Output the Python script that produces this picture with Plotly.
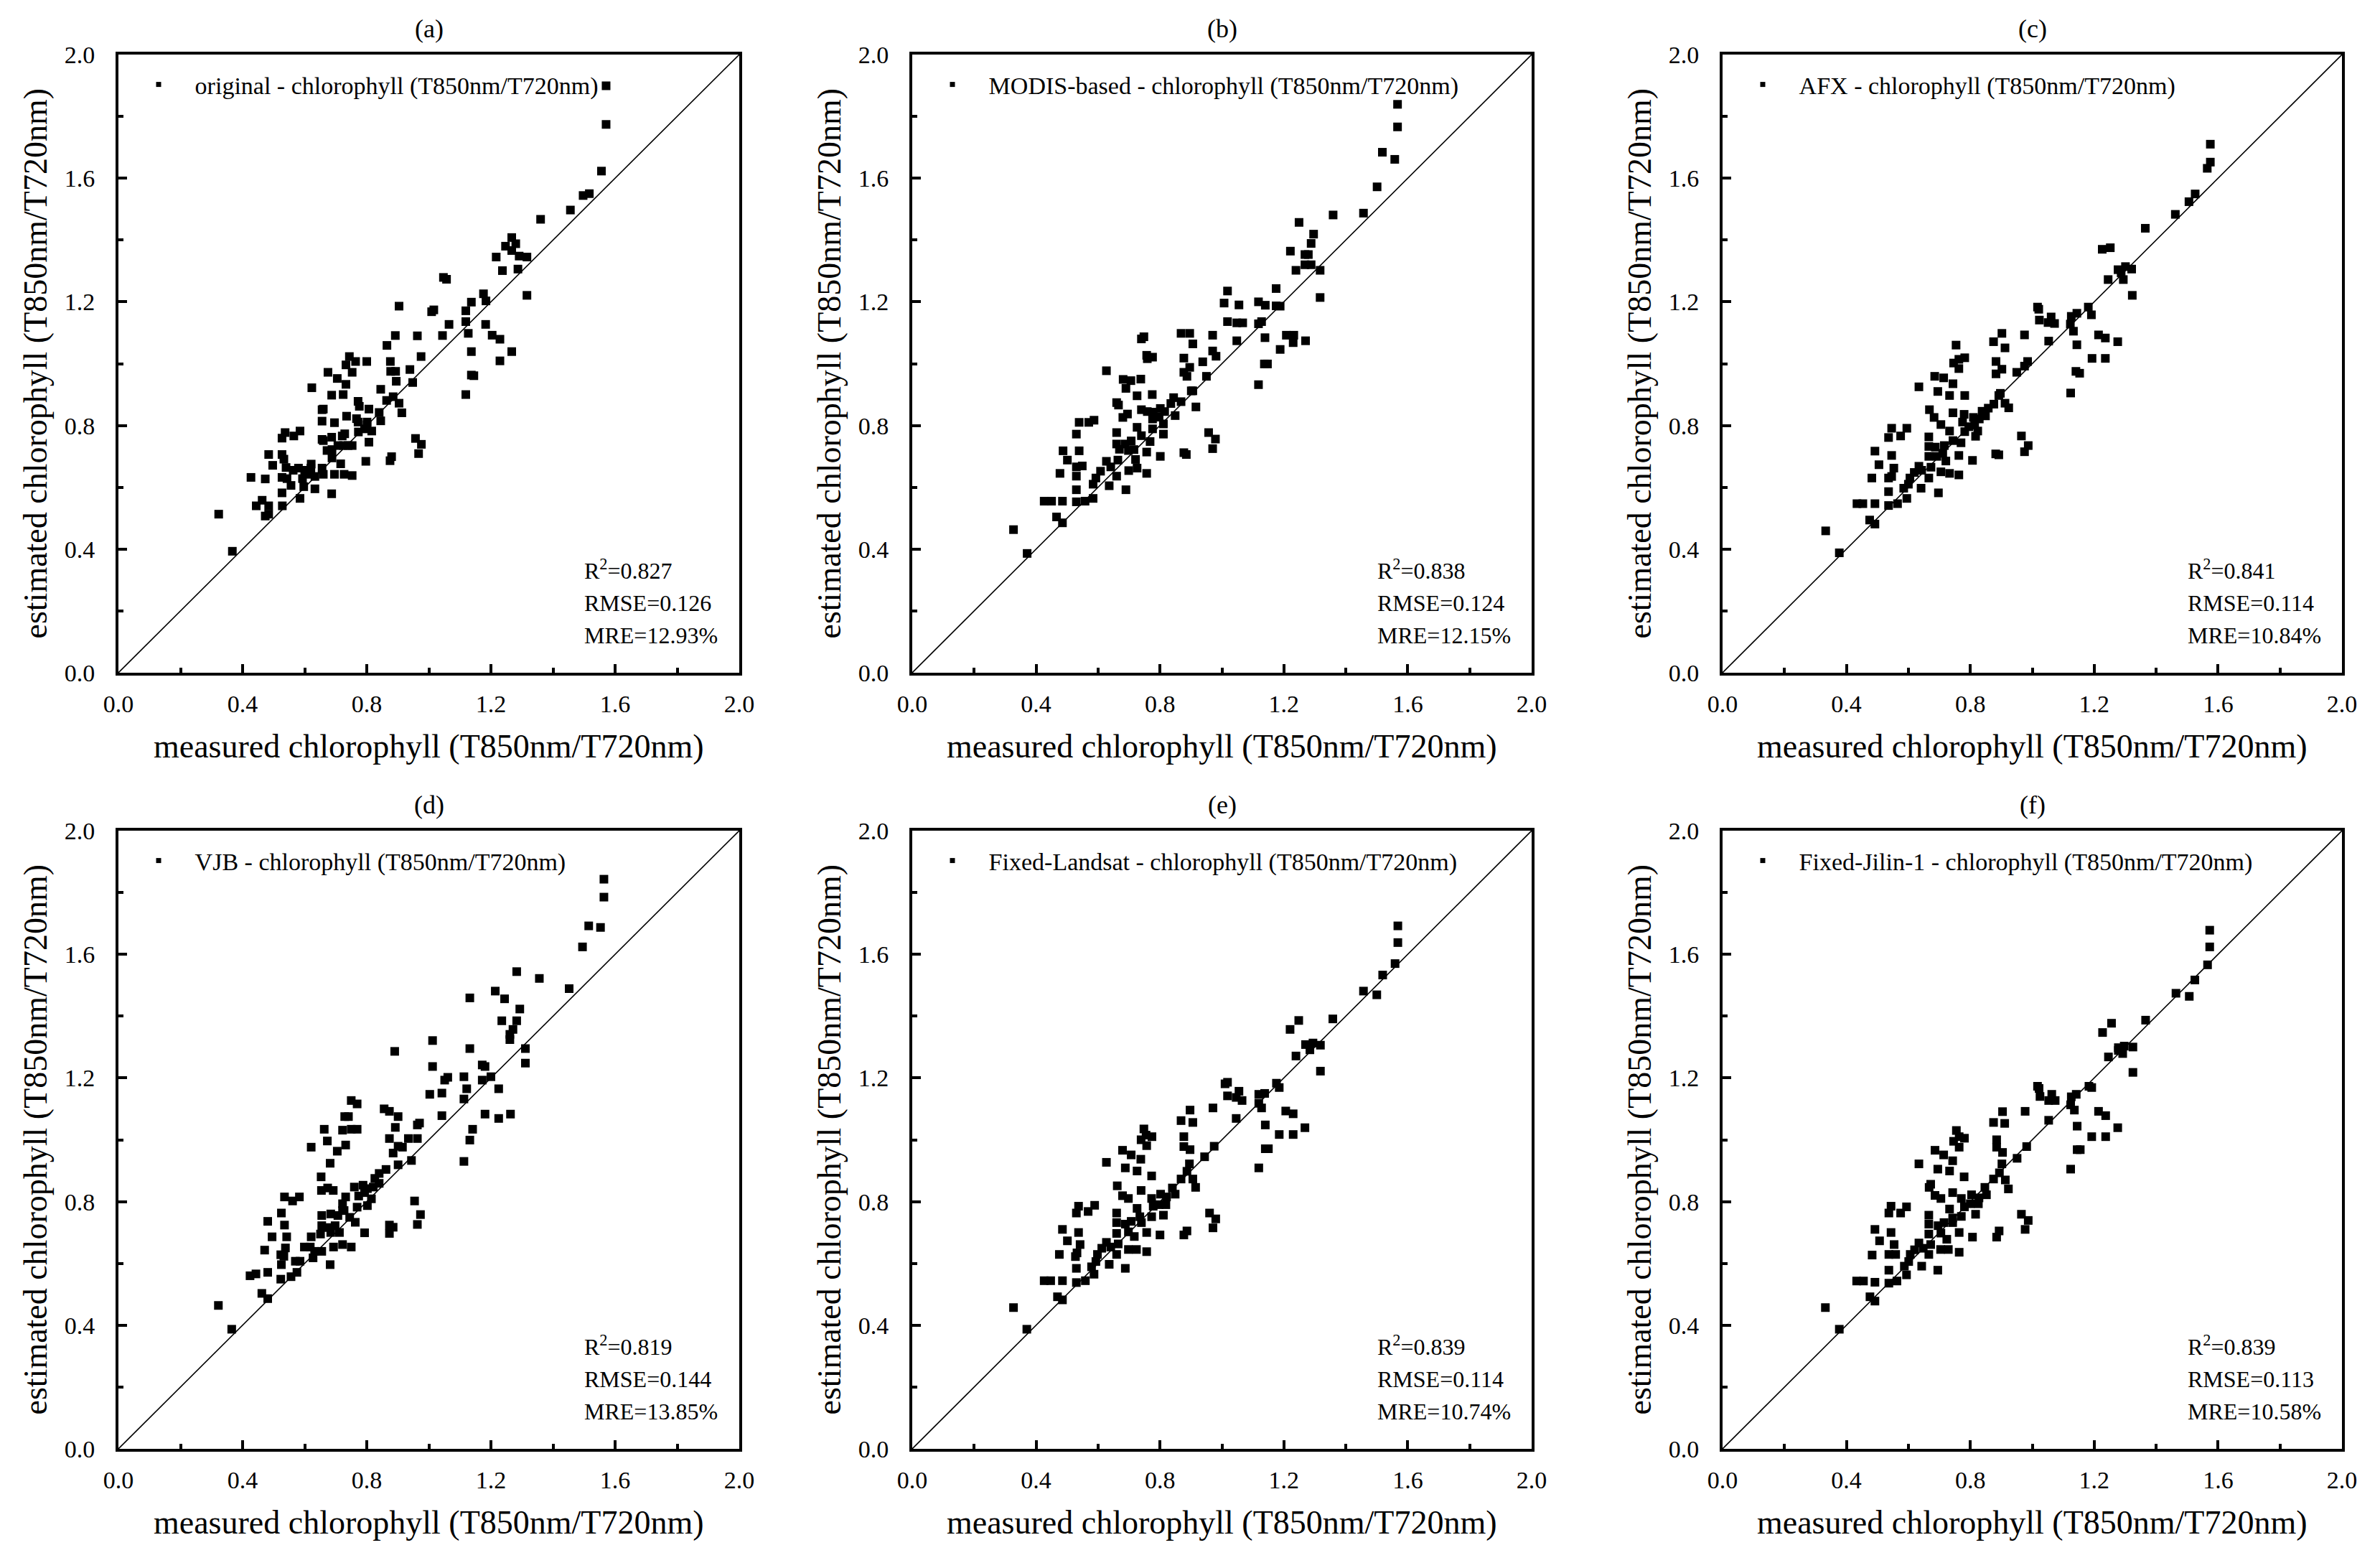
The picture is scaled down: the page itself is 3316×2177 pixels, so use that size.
import plotly.graph_objects as go

W, H = 3316, 2177
FONT = "Liberation Serif"
PAGE_OFFSET = 8  # the page body margin shifts the figure by this many pixels

panel_labels = ["(a)", "(b)", "(c)", "(d)", "(e)", "(f)"]
legend_names = [
    "original - chlorophyll (T850nm/T720nm)",
    "MODIS-based - chlorophyll (T850nm/T720nm)",
    "AFX - chlorophyll (T850nm/T720nm)",
    "VJB - chlorophyll (T850nm/T720nm)",
    "Fixed-Landsat - chlorophyll (T850nm/T720nm)",
    "Fixed-Jilin-1 - chlorophyll (T850nm/T720nm)",
]
r2_values = ["0.827", "0.838", "0.841", "0.819", "0.839", "0.839"]
rmse_values = ["0.126", "0.124", "0.114", "0.144", "0.114", "0.113"]
mre_values = ["12.93%", "12.15%", "10.84%", "13.85%", "10.74%", "10.58%"]

x_title = "measured chlorophyll (T850nm/T720nm)"
y_title = "estimated chlorophyll (T850nm/T720nm)"
tick_values = [0.0, 0.4, 0.8, 1.2, 1.6, 2.0]
tick_labels = ["0.0", "0.4", "0.8", "1.2", "1.6", "2.0"]
minor_tick_values = [0.2, 0.6, 1.0, 1.4, 1.8]
one_to_one = [0.0, 2.0]

# (measured, estimated) pairs per panel
pts_a = [(1.571,1.899),(1.571,1.774),(1.556,1.623),(1.517,1.550),(1.497,1.544),(1.456,1.497),(1.360,1.467),
 (1.267,1.408),(1.280,1.388),(1.247,1.380),(1.267,1.366),(1.217,1.345),(1.291,1.348),(1.316,1.345),(1.237,1.301),
 (1.287,1.306),(1.316,1.221),(1.047,1.279),(1.057,1.273),(1.176,1.226),(1.184,1.203),(1.137,1.199),(1.119,1.171),
 (0.904,1.186),(1.009,1.168),(1.016,1.174),(1.065,1.127),(1.119,1.136),(1.183,1.127),(1.127,1.098),(1.204,1.092),
 (1.229,1.079),(1.044,1.091),(0.963,1.090),(0.892,1.091),(0.865,1.059),(1.137,1.039),(1.267,1.039),(1.229,1.009),
 (0.975,1.023),(0.744,1.023),(0.764,1.007),(0.800,1.007),(0.733,0.996),(0.876,1.007),(0.675,0.972),(0.753,0.972),
 (0.877,0.975),(0.893,0.975),(0.939,0.981),(0.705,0.952),(0.733,0.933),(0.895,0.943),(0.948,0.939),(0.623,0.922),
 (0.845,0.917),(0.687,0.898),(0.724,0.900),(1.137,0.963),(1.145,0.961),(1.119,0.900),(0.885,0.893),(0.864,0.881),
 (0.904,0.872),(0.772,0.878),(0.776,0.862),(0.660,0.853),(0.656,0.851),(0.807,0.853),(0.840,0.842),(0.913,0.841),
 (0.735,0.830),(0.767,0.822),(0.772,0.811),(0.801,0.811),(0.656,0.814),(0.696,0.809),(0.845,0.815),(0.801,0.802),
 (0.793,0.789),(0.816,0.782),(0.773,0.779),(0.729,0.773),(0.721,0.766),(0.807,0.746),(0.957,0.758),(0.976,0.739),
 (0.967,0.709),(0.687,0.762),(0.656,0.755),(0.660,0.751),(0.707,0.735),(0.725,0.735),(0.740,0.735),(0.753,0.735),
 (0.672,0.719),(0.688,0.722),(0.527,0.759),(0.537,0.777),(0.565,0.766),(0.585,0.782),(0.484,0.706),(0.527,0.706),
 (0.533,0.691),(0.688,0.695),(0.797,0.684),(0.880,0.699),(0.875,0.686),(0.497,0.671),(0.540,0.664),(0.563,0.655),
 (0.580,0.662),(0.600,0.655),(0.621,0.675),(0.620,0.662),(0.656,0.662),(0.660,0.642),(0.607,0.642),(0.593,0.628),
 (0.633,0.635),(0.696,0.642),(0.727,0.642),(0.753,0.638),(0.716,0.676),(0.427,0.632),(0.473,0.627),(0.527,0.632),
 (0.543,0.628),(0.556,0.606),(0.597,0.602),(0.633,0.595),(0.527,0.582),(0.687,0.579),(0.585,0.564),(0.463,0.558),
 (0.444,0.540),(0.484,0.540),(0.528,0.540),(0.473,0.507),(0.484,0.513),(0.323,0.513),(0.367,0.393)]

pts_b = [(1.567,1.839),(1.567,1.766),(1.518,1.684),(1.558,1.661),(1.501,1.572),(1.457,1.487),(1.359,1.481),
 (1.249,1.457),(1.296,1.419),(1.288,1.389),(1.221,1.364),(1.268,1.353),(1.279,1.353),(1.268,1.320),(1.288,1.320),
 (1.239,1.302),(1.317,1.302),(1.317,1.214),(1.175,1.243),(1.018,1.235),(1.007,1.196),(1.055,1.190),(1.118,1.200),
 (1.140,1.189),(1.175,1.187),(1.188,1.186),(1.018,1.136),(1.048,1.132),(1.067,1.132),(1.118,1.129),(1.128,1.136),
 (1.139,1.084),(1.048,1.074),(1.208,1.092),(1.232,1.092),(1.230,1.068),(1.270,1.074),(1.188,1.046),(1.137,0.999),
 (1.147,0.999),(1.118,0.932),(0.970,1.092),(0.970,1.041),(0.981,1.024),(0.868,1.098),(0.896,1.098),(0.906,1.064),
 (0.877,1.018),(0.896,0.988),(0.877,0.972),(0.887,0.959),(0.938,1.006),(0.950,0.959),(0.901,0.912),(0.906,0.912),
 (0.916,0.860),(0.868,0.877),(0.844,0.890),(0.835,0.871),(0.740,1.080),(0.748,1.087),(0.757,1.027),(0.776,1.021),
 (0.759,1.016),(0.627,0.977),(0.681,0.949),(0.706,0.945),(0.738,0.950),(0.690,0.920),(0.726,0.896),(0.775,0.900),
 (0.660,0.874),(0.666,0.866),(0.740,0.851),(0.759,0.845),(0.778,0.843),(0.801,0.855),(0.815,0.845),(0.776,0.821),
 (0.797,0.827),(0.811,0.805),(0.849,0.832),(0.680,0.826),(0.695,0.837),(0.539,0.810),(0.570,0.810),(0.587,0.817),
 (0.530,0.772),(0.660,0.777),(0.726,0.794),(0.740,0.767),(0.776,0.789),(0.811,0.772),(0.957,0.777),(0.979,0.756),
 (0.970,0.725),(0.877,0.712),(0.885,0.706),(0.801,0.700),(0.757,0.714),(0.721,0.690),(0.660,0.740),(0.669,0.723),
 (0.688,0.740),(0.707,0.750),(0.698,0.719),(0.716,0.722),(0.768,0.748),(0.487,0.718),(0.539,0.718),(0.501,0.688),
 (0.477,0.645),(0.530,0.666),(0.549,0.669),(0.530,0.636),(0.627,0.684),(0.641,0.666),(0.664,0.688),(0.608,0.652),
 (0.593,0.630),(0.584,0.610),(0.660,0.636),(0.636,0.605),(0.699,0.654),(0.726,0.662),(0.757,0.645),(0.690,0.592),
 (0.530,0.592),(0.584,0.564),(0.426,0.555),(0.450,0.555),(0.485,0.555),(0.530,0.553),(0.558,0.555),(0.466,0.504),
 (0.485,0.485),(0.327,0.463),(0.371,0.386)]

pts_c = [(1.575,1.710),(1.575,1.652),(1.565,1.632),(1.526,1.549),(1.506,1.524),(1.462,1.483),(1.365,1.438),
 (1.226,1.370),(1.252,1.375),(1.277,1.304),(1.301,1.314),(1.321,1.306),(1.287,1.294),(1.245,1.272),(1.294,1.272),
 (1.323,1.221),(1.017,1.183),(1.021,1.176),(1.023,1.141),(1.061,1.151),(1.051,1.133),(1.072,1.130),(1.126,1.153),
 (1.144,1.163),(1.123,1.128),(1.133,1.105),(1.181,1.183),(1.191,1.158),(0.902,1.098),(0.975,1.093),(0.875,1.071),
 (0.912,1.051),(1.053,1.073),(1.214,1.093),(1.236,1.083),(1.276,1.071),(1.144,1.061),(1.193,1.017),(1.236,1.017),
 (1.141,0.975),(1.153,0.969),(1.124,0.905),(0.754,1.060),(0.746,1.002),(0.763,1.014),(0.782,1.019),(0.763,0.984),
 (0.883,1.007),(0.902,0.982),(0.883,0.967),(0.950,0.972),(0.975,0.992),(0.985,1.007),(0.685,0.959),(0.714,0.954),
 (0.744,0.935),(0.634,0.925),(0.695,0.910),(0.733,0.897),(0.782,0.897),(0.897,0.904),(0.892,0.897),(0.912,0.872),
 (0.924,0.857),(0.668,0.851),(0.683,0.826),(0.705,0.803),(0.744,0.841),(0.780,0.836),(0.810,0.826),(0.829,0.821),
 (0.849,0.831),(0.858,0.856),(0.876,0.869),(0.838,0.846),(0.775,0.811),(0.795,0.796),(0.814,0.801),(0.824,0.782),
 (0.817,0.765),(0.782,0.780),(0.733,0.782),(0.546,0.791),(0.595,0.791),(0.536,0.761),(0.575,0.766),(0.666,0.763),
 (0.744,0.751),(0.770,0.744),(0.965,0.766),(0.987,0.735),(0.975,0.715),(0.882,0.708),(0.892,0.705),(0.763,0.703),
 (0.807,0.687),(0.666,0.732),(0.687,0.730),(0.716,0.735),(0.711,0.710),(0.692,0.700),(0.666,0.700),(0.721,0.685),
 (0.492,0.717),(0.546,0.703),(0.505,0.673),(0.553,0.662),(0.546,0.635),(0.536,0.630),(0.482,0.630),(0.634,0.668),
 (0.619,0.648),(0.643,0.655),(0.673,0.665),(0.666,0.630),(0.605,0.630),(0.705,0.650),(0.733,0.645),(0.763,0.640),
 (0.585,0.597),(0.600,0.610),(0.595,0.564),(0.641,0.597),(0.697,0.582),(0.536,0.586),(0.434,0.547),(0.453,0.547),
 (0.492,0.547),(0.536,0.541),(0.565,0.547),(0.475,0.494),(0.492,0.481),(0.333,0.459),(0.377,0.388)]

pts_d = [(1.564,1.843),(1.564,1.785),(1.515,1.692),(1.553,1.687),(1.495,1.624),(1.283,1.544),(1.356,1.522),
 (1.452,1.489),(1.132,1.459),(1.214,1.481),(1.244,1.456),(1.293,1.423),(1.235,1.385),(1.283,1.385),(1.271,1.357),
 (1.261,1.341),(1.261,1.324),(1.311,1.295),(1.311,1.248),(1.132,1.295),(1.012,1.321),(1.012,1.237),(0.890,1.286),
 (1.172,1.242),(1.181,1.237),(1.200,1.204),(1.113,1.204),(1.122,1.165),(1.113,1.132),(1.051,1.193),(1.061,1.202),
 (1.172,1.193),(1.225,1.165),(1.003,1.147),(1.042,1.151),(1.042,1.078),(1.181,1.083),(1.225,1.069),(1.263,1.083),
 (1.141,1.034),(1.132,0.999),(1.113,0.930),(0.750,1.127),(0.769,1.116),(0.729,1.075),(0.741,1.075),(0.856,1.100),
 (0.873,1.092),(0.901,1.075),(0.892,1.040),(0.963,1.048),(0.970,1.054),(0.663,1.034),(0.722,1.031),(0.750,1.034),
 (0.769,1.034),(0.673,0.996),(0.621,0.976),(0.732,0.983),(0.705,0.963),(0.873,1.004),(0.901,0.979),(0.885,0.957),
 (0.915,0.976),(0.934,1.004),(0.963,1.004),(0.682,0.924),(0.901,0.919),(0.944,0.933),(0.862,0.904),(0.840,0.891),
 (0.826,0.875),(0.840,0.859),(0.653,0.880),(0.654,0.836),(0.674,0.844),(0.692,0.836),(0.760,0.847),(0.788,0.853),
 (0.802,0.842),(0.821,0.847),(0.774,0.818),(0.793,0.829),(0.815,0.809),(0.802,0.787),(0.769,0.782),(0.732,0.815),
 (0.722,0.793),(0.727,0.771),(0.535,0.815),(0.561,0.802),(0.583,0.815),(0.954,0.802),(0.973,0.758),(0.963,0.726),
 (0.873,0.724),(0.885,0.717),(0.873,0.697),(0.793,0.699),(0.763,0.733),(0.525,0.763),(0.481,0.736),(0.535,0.724),
 (0.495,0.686),(0.471,0.643),(0.655,0.755),(0.684,0.760),(0.707,0.755),(0.745,0.749),(0.722,0.771),(0.655,0.722),
 (0.674,0.716),(0.698,0.722),(0.712,0.700),(0.651,0.695),(0.684,0.700),(0.621,0.686),(0.599,0.653),(0.618,0.653),
 (0.632,0.639),(0.655,0.639),(0.542,0.686),(0.538,0.650),(0.523,0.628),(0.533,0.623),(0.693,0.653),(0.722,0.661),
 (0.750,0.653),(0.570,0.607),(0.585,0.607),(0.575,0.571),(0.627,0.618),(0.682,0.596),(0.525,0.596),(0.424,0.560),
 (0.443,0.566),(0.481,0.571),(0.523,0.549),(0.556,0.557),(0.462,0.503),(0.481,0.486),(0.322,0.464),(0.365,0.387)]

pts_e = [(1.568,1.692),(1.568,1.638),(1.559,1.570),(1.519,1.533),(1.457,1.481),(1.500,1.469),(1.358,1.391),
 (1.220,1.357),(1.248,1.386),(1.270,1.308),(1.294,1.313),(1.318,1.306),(1.284,1.291),(1.239,1.271),(1.318,1.222),
 (1.010,1.181),(1.018,1.186),(1.018,1.142),(1.055,1.157),(1.046,1.137),(1.065,1.127),(1.119,1.147),(1.138,1.150),
 (1.119,1.118),(1.128,1.103),(1.176,1.183),(1.185,1.169),(0.897,1.096),(0.971,1.103),(0.868,1.062),(0.906,1.056),
 (1.046,1.069),(1.206,1.093),(1.230,1.084),(1.268,1.039),(1.140,1.048),(1.185,1.017),(1.230,1.017),(1.140,0.971),
 (1.150,0.971),(1.119,0.909),(0.748,1.035),(0.739,1.000),(0.755,1.015),(0.774,1.010),(0.757,0.981),(0.877,1.010),
 (0.877,0.978),(0.897,0.968),(0.975,0.979),(0.944,0.945),(0.679,0.966),(0.707,0.951),(0.738,0.937),(0.627,0.927),
 (0.688,0.909),(0.726,0.899),(0.773,0.883),(0.895,0.922),(0.887,0.898),(0.868,0.873),(0.906,0.873),(0.915,0.846),
 (0.662,0.851),(0.679,0.819),(0.698,0.810),(0.739,0.836),(0.773,0.810),(0.802,0.824),(0.821,0.815),(0.849,0.824),
 (0.840,0.844),(0.778,0.785),(0.797,0.790),(0.819,0.790),(0.811,0.756),(0.773,0.751),(0.726,0.778),(0.735,0.751),
 (0.740,0.732),(0.537,0.785),(0.589,0.788),(0.530,0.763),(0.568,0.768),(0.660,0.763),(0.960,0.763),(0.980,0.744),
 (0.971,0.715),(0.887,0.705),(0.877,0.692),(0.757,0.700),(0.800,0.692),(0.660,0.732),(0.688,0.727),(0.707,0.736),
 (0.698,0.702),(0.717,0.687),(0.660,0.697),(0.485,0.710),(0.537,0.700),(0.501,0.673),(0.542,0.661),(0.532,0.634),
 (0.527,0.622),(0.475,0.629),(0.627,0.668),(0.612,0.649),(0.641,0.653),(0.665,0.663),(0.660,0.629),(0.598,0.629),
 (0.698,0.645),(0.724,0.645),(0.757,0.638),(0.579,0.589),(0.593,0.606),(0.587,0.565),(0.636,0.597),(0.688,0.584),
 (0.530,0.584),(0.426,0.544),(0.447,0.544),(0.485,0.544),(0.530,0.538),(0.559,0.544),(0.469,0.492),(0.485,0.482),
 (0.327,0.457),(0.370,0.387)]

pts_f = [(1.573,1.678),(1.573,1.624),(1.566,1.566),(1.525,1.517),(1.464,1.474),(1.507,1.464),(1.366,1.387),
 (1.227,1.347),(1.256,1.377),(1.278,1.298),(1.297,1.303),(1.325,1.300),(1.292,1.279),(1.278,1.289),(1.246,1.268),
 (1.325,1.218),(1.017,1.173),(1.022,1.166),(1.025,1.140),(1.063,1.147),(1.053,1.127),(1.074,1.127),(1.126,1.139),
 (1.142,1.147),(1.124,1.113),(1.136,1.096),(1.183,1.173),(1.192,1.169),(0.904,1.091),(0.977,1.092),(0.875,1.056),
 (0.911,1.053),(1.053,1.063),(1.214,1.092),(1.237,1.078),(1.276,1.039),(1.145,1.044),(1.192,1.010),(1.237,1.010),
 (1.145,0.968),(1.155,0.968),(1.124,0.905),(0.755,1.030),(0.746,0.995),(0.764,1.010),(0.781,1.005),(0.764,0.976),
 (0.885,1.000),(0.885,0.976),(0.904,0.959),(0.982,0.978),(0.951,0.940),(0.686,0.966),(0.714,0.951),(0.743,0.932),
 (0.634,0.922),(0.695,0.905),(0.733,0.899),(0.780,0.880),(0.902,0.922),(0.894,0.893),(0.875,0.873),(0.913,0.870),
 (0.923,0.841),(0.672,0.856),(0.667,0.846),(0.686,0.820),(0.705,0.810),(0.743,0.829),(0.771,0.810),(0.804,0.822),
 (0.828,0.812),(0.852,0.822),(0.847,0.846),(0.781,0.783),(0.800,0.793),(0.826,0.793),(0.817,0.759),(0.771,0.752),
 (0.733,0.776),(0.743,0.747),(0.743,0.732),(0.544,0.785),(0.594,0.783),(0.537,0.763),(0.575,0.763),(0.666,0.756),
 (0.965,0.759),(0.987,0.739),(0.977,0.710),(0.893,0.705),(0.885,0.685),(0.764,0.700),(0.807,0.685),(0.666,0.727),
 (0.696,0.722),(0.715,0.732),(0.705,0.698),(0.724,0.678),(0.666,0.695),(0.492,0.710),(0.544,0.700),(0.507,0.673),
 (0.554,0.661),(0.537,0.629),(0.559,0.629),(0.483,0.627),(0.634,0.666),(0.620,0.644),(0.648,0.649),(0.672,0.661),
 (0.666,0.629),(0.606,0.629),(0.704,0.645),(0.729,0.645),(0.764,0.636),(0.587,0.591),(0.601,0.606),(0.594,0.563),
 (0.643,0.591),(0.695,0.578),(0.537,0.578),(0.433,0.543),(0.455,0.543),(0.492,0.539),(0.537,0.536),(0.563,0.543),
 (0.476,0.492),(0.492,0.478),(0.332,0.457),(0.377,0.387)]

panel_points = [pts_a, pts_b, pts_c, pts_d, pts_e, pts_f]

# layout geometry (pixels on the page)
col_px = [(165, 1030), (1271, 2134), (2400, 3263)]
row_px = [(76, 937), (1157, 2018)]

fig = go.Figure()
annotations = []
layout_update = {}

def px_x(p):
    return (p - PAGE_OFFSET) / W

def px_y(p):
    return (H - (p - PAGE_OFFSET)) / H

for i in range(6):
    r, c = divmod(i, 3)
    left, right = col_px[c]
    top, bottom = row_px[r]
    sfx = "" if i == 0 else str(i + 1)
    xa, ya = "x" + sfx, "y" + sfx
    leg = "legend" if i == 0 else "legend" + str(i + 1)
    pts = panel_points[i]
    xs = [p[0] for p in pts]
    ys = [p[1] for p in pts]

    fig.add_trace(go.Scatter(x=one_to_one, y=one_to_one, mode="lines",
                             line=dict(color="black", width=1.6),
                             xaxis=xa, yaxis=ya, showlegend=False, hoverinfo="skip"))
    fig.add_trace(go.Scatter(x=xs, y=ys, mode="markers",
                             marker=dict(symbol="square", size=12, color="black"),
                             xaxis=xa, yaxis=ya, showlegend=False))
    fig.add_trace(go.Scatter(x=[None], y=[None], mode="markers",
                             marker=dict(symbol="square", size=7, color="black"),
                             name="\u2002\u2009\u2009" + legend_names[i], legend=leg,
                             xaxis=xa, yaxis=ya, showlegend=True))

    common = dict(range=[0, 2], showline=True, linecolor="black", linewidth=4, mirror=True,
                  ticks="inside", ticklen=12, tickwidth=3.5, tickcolor="black",
                  tickvals=tick_values, ticktext=tick_labels,
                  minor=dict(tickvals=minor_tick_values, ticks="inside", ticklen=7,
                             tickwidth=3.5, tickcolor="black"),
                  showgrid=False, zeroline=False, fixedrange=True, automargin=False,
                  tickfont=dict(family=FONT, size=34, color="black"))
    layout_update["xaxis" + sfx] = dict(domain=[px_x(left), px_x(right)], anchor=ya,
                                        ticklabelstandoff=10, **common)
    layout_update["yaxis" + sfx] = dict(domain=[px_y(bottom), px_y(top)], anchor=xa,
                                        ticklabelstandoff=22, **common)

    layout_update[leg] = dict(x=px_x(left + 36), y=px_y(top + 42), xanchor="left", yanchor="middle",
                              bgcolor="rgba(0,0,0,0)", borderwidth=0,
                              font=dict(family=FONT, size=34, color="black"))

    cx = (left + right) / 2
    cy = (top + bottom) / 2
    annotations.append(dict(text=panel_labels[i], x=px_x(cx), y=px_y(top - 36), xref="paper", yref="paper",
                            showarrow=False, xanchor="center", yanchor="middle",
                            font=dict(family=FONT, size=36, color="black")))
    annotations.append(dict(text=x_title, x=px_x(cx), y=px_y(bottom + 102), xref="paper", yref="paper",
                            showarrow=False, xanchor="center", yanchor="middle",
                            font=dict(family=FONT, size=46, color="black")))
    annotations.append(dict(text=y_title, x=px_x(left - 116), y=px_y(cy), xref="paper", yref="paper",
                            showarrow=False, xanchor="center", yanchor="middle", textangle=-90,
                            font=dict(family=FONT, size=46, color="black")))
    stats = ["R<sup>2</sup>=" + r2_values[i], "RMSE=" + rmse_values[i], "MRE=" + mre_values[i]]
    for txt, yv in zip(stats, [0.334, 0.226, 0.121]):
        annotations.append(dict(text=txt, x=1.496, y=yv, xref=xa, yref=ya, showarrow=False,
                                xanchor="left", yanchor="middle",
                                font=dict(family=FONT, size=32, color="black")))

fig.update_layout(width=W, height=H, margin=dict(l=0, r=0, t=0, b=0, autoexpand=False),
                  paper_bgcolor="white", plot_bgcolor="white",
                  annotations=annotations, **layout_update)

fig.write_html("out.html")
